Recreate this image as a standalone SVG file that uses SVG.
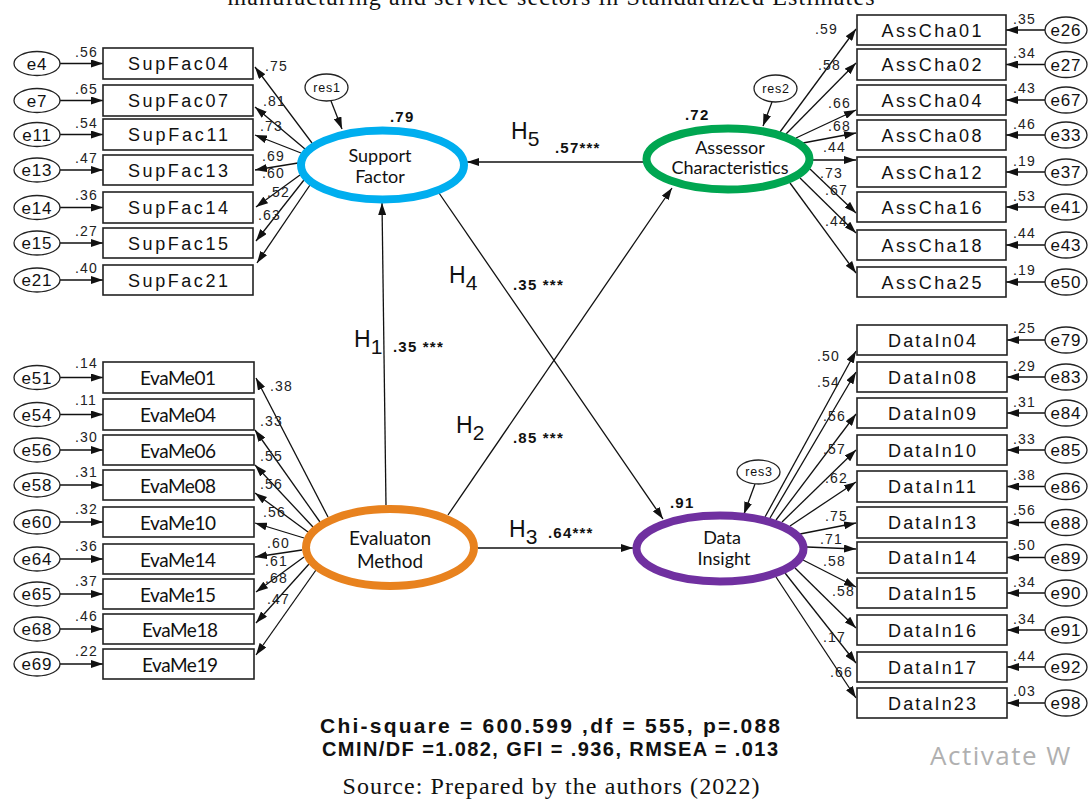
<svg xmlns="http://www.w3.org/2000/svg" width="1091" height="799" viewBox="0 0 1091 799">
  <style>
    .box { fill:#fff; stroke:#222; stroke-width:1.6 }
    .err { fill:#fff; stroke:#222; stroke-width:1.3 }
    .lat { fill:#fff; stroke-width:8 }
    .ind { font-family:"Liberation Sans", Arial, sans-serif; font-size:18px; fill:#111; text-anchor:middle }
    .eva { font-family:Lato, "Open Sans", sans-serif; font-size:19px; fill:#111; text-anchor:middle }
    .en { font-family:"Liberation Sans", Arial, sans-serif; font-size:17px; fill:#111; text-anchor:middle; letter-spacing:0.8px }
    .rn { font-family:"Liberation Sans", Arial, sans-serif; font-size:12.5px; fill:#111; text-anchor:middle; letter-spacing:0.8px }
    .num { font-family:"Liberation Sans", Arial, sans-serif; font-size:14px; fill:#222; letter-spacing:1.2px }
    .coef { font-family:"Liberation Sans", Arial, sans-serif; font-size:15px; font-weight:bold; fill:#111; letter-spacing:1.2px }
    .hyp { font-family:"Liberation Sans", Arial, sans-serif; font-size:23px; fill:#111 }
    .lname { font-family:Lato, "Open Sans", sans-serif; font-size:18px; fill:#111; text-anchor:middle }
    .lname.big { font-size:19px }
    .fit { font-family:"Liberation Sans", Arial, sans-serif; font-size:20px; font-weight:bold; fill:#111; text-anchor:middle }
    .fit.big { font-size:21px }
    .serif { font-family:"Liberation Serif", "Times New Roman", serif; font-size:24px; fill:#111; text-anchor:middle }
    #connectors line { stroke:#111; stroke-width:1.3; marker-end:url(#ah) }
  </style>
  <defs>
    <marker id="ah" viewBox="0 0 12 8" refX="12" refY="4" markerWidth="12" markerHeight="8" markerUnits="userSpaceOnUse" orient="auto">
      <path d="M0,0 L12,4 L0,8 z" fill="#111"/>
    </marker>
  </defs>

  <rect width="1091" height="799" fill="#fff"/>

  <!-- caption lines -->
  <text class="serif" x="551" y="5" textLength="647">manufacturing and service sectors in Standardized Estimates</text>

  <!-- connectors -->
  <g id="connectors">
    <!-- structural paths -->
    <line x1="643" y1="162" x2="467" y2="162"/>
    <line x1="386" y1="505" x2="382" y2="203"/>
    <line x1="448" y1="515" x2="672" y2="188"/>
    <line x1="439" y1="193" x2="663" y2="519"/>
    <line x1="478" y1="548" x2="633" y2="548"/>
    <!-- residuals -->
    <line x1="331" y1="101" x2="342" y2="129"/>
    <line x1="772" y1="102" x2="763" y2="126"/>
    <line x1="755" y1="484" x2="744" y2="514"/>
    <!-- Support Factor loadings -->
    <line x1="312" y1="143" x2="255" y2="67"/>
    <line x1="305" y1="149" x2="255" y2="107"/>
    <line x1="301" y1="153" x2="255" y2="135"/>
    <line x1="298" y1="163" x2="255" y2="170"/>
    <line x1="300" y1="175" x2="256" y2="207"/>
    <line x1="304" y1="180" x2="256" y2="241"/>
    <line x1="310" y1="185" x2="257" y2="263"/>
    <!-- Assessor Characteristics loadings -->
    <line x1="780" y1="132" x2="856" y2="29"/>
    <line x1="786" y1="134" x2="856" y2="63"/>
    <line x1="796" y1="138" x2="856" y2="110"/>
    <line x1="803" y1="143" x2="856" y2="133"/>
    <line x1="813" y1="160" x2="856" y2="160"/>
    <line x1="810" y1="169" x2="856" y2="213"/>
    <line x1="800" y1="178" x2="856" y2="233"/>
    <line x1="790" y1="183" x2="856" y2="273"/>
    <!-- Data Insight loadings -->
    <line x1="765" y1="517" x2="856" y2="351"/>
    <line x1="770" y1="518" x2="856" y2="372"/>
    <line x1="776" y1="520" x2="856" y2="414"/>
    <line x1="782" y1="522" x2="856" y2="450"/>
    <line x1="790" y1="526" x2="856" y2="482"/>
    <line x1="800" y1="534" x2="856" y2="523"/>
    <line x1="807" y1="547" x2="856" y2="549"/>
    <line x1="803" y1="560" x2="856" y2="587"/>
    <line x1="795" y1="568" x2="856" y2="628"/>
    <line x1="785" y1="573" x2="856" y2="663"/>
    <line x1="776" y1="577" x2="856" y2="698"/>
    <!-- Evaluaton Method loadings -->
    <line x1="328" y1="517" x2="256" y2="378"/>
    <line x1="320" y1="522" x2="255" y2="430"/>
    <line x1="313" y1="527" x2="255" y2="465"/>
    <line x1="308" y1="532" x2="255" y2="493"/>
    <line x1="304" y1="538" x2="255" y2="523"/>
    <line x1="302" y1="550" x2="255" y2="557"/>
    <line x1="304" y1="557" x2="256" y2="592"/>
    <line x1="309" y1="564" x2="256" y2="623"/>
    <line x1="316" y1="570" x2="256" y2="655"/>
    <!-- error terms, left column -->
    <line x1="60" y1="63.5" x2="103" y2="63.5"/>
    <line x1="60" y1="100.5" x2="103" y2="100.5"/>
    <line x1="60" y1="134.5" x2="103" y2="134.5"/>
    <line x1="60" y1="170" x2="103" y2="170"/>
    <line x1="60" y1="207.5" x2="103" y2="207.5"/>
    <line x1="60" y1="243" x2="103" y2="243"/>
    <line x1="60" y1="280" x2="103" y2="280"/>
    <line x1="60" y1="377.5" x2="103" y2="377.5"/>
    <line x1="60" y1="414.5" x2="103" y2="414.5"/>
    <line x1="60" y1="450" x2="103" y2="450"/>
    <line x1="60" y1="485" x2="103" y2="485"/>
    <line x1="60" y1="522" x2="103" y2="522"/>
    <line x1="60" y1="559" x2="103" y2="559"/>
    <line x1="60" y1="594" x2="103" y2="594"/>
    <line x1="60" y1="629" x2="103" y2="629"/>
    <line x1="60" y1="664" x2="103" y2="664"/>
    <!-- error terms, right column -->
    <line x1="1045" y1="30" x2="1006" y2="30"/>
    <line x1="1045" y1="64.5" x2="1006" y2="64.5"/>
    <line x1="1045" y1="100" x2="1006" y2="100"/>
    <line x1="1045" y1="135" x2="1006" y2="135"/>
    <line x1="1045" y1="172" x2="1006" y2="172"/>
    <line x1="1045" y1="207" x2="1006" y2="207"/>
    <line x1="1045" y1="245" x2="1006" y2="245"/>
    <line x1="1045" y1="282" x2="1006" y2="282"/>
    <line x1="1045" y1="340" x2="1007" y2="340"/>
    <line x1="1045" y1="377" x2="1007" y2="377"/>
    <line x1="1045" y1="413" x2="1007" y2="413"/>
    <line x1="1045" y1="450" x2="1007" y2="450"/>
    <line x1="1045" y1="486.5" x2="1007" y2="486.5"/>
    <line x1="1045" y1="522.5" x2="1007" y2="522.5"/>
    <line x1="1045" y1="557.5" x2="1007" y2="557.5"/>
    <line x1="1045" y1="593" x2="1007" y2="593"/>
    <line x1="1045" y1="630" x2="1007" y2="630"/>
    <line x1="1045" y1="667" x2="1007" y2="667"/>
    <line x1="1045" y1="703" x2="1007" y2="703"/>
  </g>

  <!-- path labels -->
  <g id="path-labels">
    <text class="hyp" x="511" y="139">H<tspan font-size="21" dy="7">5</tspan></text>
    <text class="coef" x="555" y="153">.57***</text>
    <text class="hyp" x="449" y="283">H<tspan font-size="21" dy="7">4</tspan></text>
    <text class="coef" x="513" y="290">.35 ***</text>
    <text class="hyp" x="354" y="347">H<tspan font-size="21" dy="7">1</tspan></text>
    <text class="coef" x="393" y="352">.35 ***</text>
    <text class="hyp" x="456" y="433">H<tspan font-size="21" dy="7">2</tspan></text>
    <text class="coef" x="513" y="443">.85 ***</text>
    <text class="hyp" x="509" y="537">H<tspan font-size="21" dy="7">3</tspan></text>
    <text class="coef" x="548" y="538">.64***</text>
    <text class="coef" x="390" y="122">.79</text>
    <text class="coef" x="685" y="120">.72</text>
    <text class="coef" x="670" y="508">.91</text>
  </g>

  <!-- loading and error weights -->
  <g id="weights" class="num">
    <text x="265" y="71">.75</text>
    <text x="263" y="106">.81</text>
    <text x="260" y="131">.73</text>
    <text x="262" y="161">.69</text>
    <text x="262" y="178">.60</text>
    <text x="267" y="197">.52</text>
    <text x="258" y="220">.63</text>
    <text x="75" y="57">.56</text>
    <text x="75" y="94">.65</text>
    <text x="75" y="128">.54</text>
    <text x="75" y="163">.47</text>
    <text x="75" y="200">.36</text>
    <text x="75" y="236">.27</text>
    <text x="75" y="273">.40</text>

    <text x="815" y="34">.59</text>
    <text x="818" y="70">.58</text>
    <text x="828" y="108">.66</text>
    <text x="828" y="131">.68</text>
    <text x="823" y="152">.44</text>
    <text x="820" y="178">.73</text>
    <text x="825" y="195">.67</text>
    <text x="825" y="226">.44</text>
    <text x="1013" y="24">.35</text>
    <text x="1013" y="58">.34</text>
    <text x="1013" y="93">.43</text>
    <text x="1013" y="129">.46</text>
    <text x="1013" y="166">.19</text>
    <text x="1013" y="201">.53</text>
    <text x="1013" y="238">.44</text>
    <text x="1013" y="275">.19</text>

    <text x="817" y="361">.50</text>
    <text x="817" y="387">.54</text>
    <text x="823" y="421">.56</text>
    <text x="823" y="454">.57</text>
    <text x="825" y="483">.62</text>
    <text x="825" y="521">.75</text>
    <text x="820" y="544">.71</text>
    <text x="823" y="566">.58</text>
    <text x="832" y="596">.58</text>
    <text x="823" y="642">.17</text>
    <text x="830" y="677">.66</text>
    <text x="1013" y="333">.25</text>
    <text x="1013" y="371">.29</text>
    <text x="1013" y="407">.31</text>
    <text x="1013" y="444">.33</text>
    <text x="1013" y="480">.38</text>
    <text x="1013" y="515">.56</text>
    <text x="1013" y="550">.50</text>
    <text x="1013" y="587">.34</text>
    <text x="1013" y="624">.34</text>
    <text x="1013" y="661">.44</text>
    <text x="1013" y="696">.03</text>

    <text x="270" y="391">.38</text>
    <text x="260" y="426">.33</text>
    <text x="260" y="461">.55</text>
    <text x="260" y="489">.56</text>
    <text x="263" y="517">.56</text>
    <text x="267" y="548">.60</text>
    <text x="265" y="566">.61</text>
    <text x="265" y="583">.68</text>
    <text x="267" y="604">.47</text>
    <text x="75" y="368">.14</text>
    <text x="75" y="405">.11</text>
    <text x="75" y="442">.30</text>
    <text x="75" y="477">.31</text>
    <text x="75" y="514">.32</text>
    <text x="75" y="551">.36</text>
    <text x="75" y="586">.37</text>
    <text x="75" y="621">.46</text>
    <text x="75" y="656">.22</text>
  </g>

  <!-- latent constructs -->
  <g id="support-factor">
    <ellipse class="lat" cx="382.5" cy="165" rx="81.5" ry="34.5" stroke="#00AEEF"/>
    <text class="lname" x="380" y="162">Support</text>
    <text class="lname" x="380" y="183">Factor</text>
  </g>
  <g id="assessor-characteristics">
    <ellipse class="lat" cx="728" cy="159" rx="81.5" ry="30.5" stroke="#00A651"/>
    <text class="lname" x="730" y="154">Assessor</text>
    <text class="lname" x="730" y="174">Characteristics</text>
  </g>
  <g id="evaluaton-method">
    <ellipse class="lat" cx="390" cy="547.5" rx="84" ry="38.5" stroke="#E8821E"/>
    <text class="lname big" x="390" y="545">Evaluaton</text>
    <text class="lname big" x="390" y="568">Method</text>
  </g>
  <g id="data-insight">
    <ellipse class="lat" cx="720" cy="548.5" rx="83.5" ry="33" stroke="#7030A0"/>
    <text class="lname" x="722" y="544">Data</text>
    <text class="lname" x="724" y="565">Insight</text>
  </g>

  <!-- residuals -->
  <g id="res1"><ellipse class="err" cx="326.5" cy="87.5" rx="21.5" ry="13.5"/><text class="rn" x="327" y="92">res1</text></g>
  <g id="res2"><ellipse class="err" cx="775.5" cy="88.5" rx="21.5" ry="13.5"/><text class="rn" x="776" y="93">res2</text></g>
  <g id="res3"><ellipse class="err" cx="758.5" cy="472" rx="21.5" ry="12"/><text class="rn" x="759" y="476">res3</text></g>

  <!-- Support Factor indicators -->
  <g id="SupFac04"><rect class="box" x="103" y="48" width="150" height="31"/><text class="ind" x="178" y="70" textLength="100">SupFac04</text></g>
  <g id="SupFac07"><rect class="box" x="103" y="85" width="150" height="31"/><text class="ind" x="178" y="107" textLength="100">SupFac07</text></g>
  <g id="SupFac11"><rect class="box" x="103" y="119" width="150" height="31"/><text class="ind" x="178" y="141" textLength="100">SupFac11</text></g>
  <g id="SupFac13"><rect class="box" x="103" y="155" width="150" height="30"/><text class="ind" x="178" y="176.5" textLength="100">SupFac13</text></g>
  <g id="SupFac14"><rect class="box" x="103" y="192" width="150" height="31"/><text class="ind" x="178" y="214" textLength="100">SupFac14</text></g>
  <g id="SupFac15"><rect class="box" x="103" y="228" width="150" height="30"/><text class="ind" x="178" y="249.5" textLength="100">SupFac15</text></g>
  <g id="SupFac21"><rect class="box" x="103" y="265" width="150" height="30"/><text class="ind" x="178" y="286.5" textLength="100">SupFac21</text></g>

  <g id="e4"><ellipse class="err" cx="37" cy="63.5" rx="23" ry="12"/><text class="en" x="37" y="69.5">e4</text></g>
  <g id="e7"><ellipse class="err" cx="37" cy="100.5" rx="23" ry="12"/><text class="en" x="37" y="106.5">e7</text></g>
  <g id="e11"><ellipse class="err" cx="37" cy="134.5" rx="23" ry="12"/><text class="en" x="37" y="140.5">e11</text></g>
  <g id="e13"><ellipse class="err" cx="37" cy="170" rx="23" ry="12"/><text class="en" x="37" y="176">e13</text></g>
  <g id="e14"><ellipse class="err" cx="37" cy="207.5" rx="23" ry="12"/><text class="en" x="37" y="213.5">e14</text></g>
  <g id="e15"><ellipse class="err" cx="37" cy="243" rx="23" ry="12"/><text class="en" x="37" y="249">e15</text></g>
  <g id="e21"><ellipse class="err" cx="37" cy="280" rx="23" ry="12"/><text class="en" x="37" y="286">e21</text></g>

  <!-- Evaluaton Method indicators -->
  <g id="EvaMe01"><rect class="box" x="103" y="362" width="151" height="31"/><text class="eva" x="178" y="385" textLength="76">EvaMe01</text></g>
  <g id="EvaMe04"><rect class="box" x="103" y="399" width="151" height="31"/><text class="eva" x="178" y="422" textLength="76">EvaMe04</text></g>
  <g id="EvaMe06"><rect class="box" x="103" y="435" width="151" height="30"/><text class="eva" x="178" y="457.5" textLength="76">EvaMe06</text></g>
  <g id="EvaMe08"><rect class="box" x="103" y="470" width="151" height="30"/><text class="eva" x="178" y="492.5" textLength="76">EvaMe08</text></g>
  <g id="EvaMe10"><rect class="box" x="103" y="507" width="151" height="30"/><text class="eva" x="178" y="529.5" textLength="76">EvaMe10</text></g>
  <g id="EvaMe14"><rect class="box" x="103" y="544" width="151" height="30"/><text class="eva" x="178" y="566.5" textLength="76">EvaMe14</text></g>
  <g id="EvaMe15"><rect class="box" x="103" y="579" width="151" height="30"/><text class="eva" x="178" y="601.5" textLength="76">EvaMe15</text></g>
  <g id="EvaMe18"><rect class="box" x="103" y="614" width="151" height="30"/><text class="eva" x="180" y="636.5" textLength="76">EvaMe18</text></g>
  <g id="EvaMe19"><rect class="box" x="103" y="649" width="151" height="30"/><text class="eva" x="180" y="671.5" textLength="76">EvaMe19</text></g>

  <g id="e51"><ellipse class="err" cx="37" cy="377.5" rx="23" ry="12"/><text class="en" x="37" y="383.5">e51</text></g>
  <g id="e54"><ellipse class="err" cx="37" cy="414.5" rx="23" ry="12"/><text class="en" x="37" y="420.5">e54</text></g>
  <g id="e56"><ellipse class="err" cx="37" cy="450" rx="23" ry="12"/><text class="en" x="37" y="456">e56</text></g>
  <g id="e58"><ellipse class="err" cx="37" cy="485" rx="23" ry="12"/><text class="en" x="37" y="491">e58</text></g>
  <g id="e60"><ellipse class="err" cx="37" cy="522" rx="23" ry="12"/><text class="en" x="37" y="528">e60</text></g>
  <g id="e64"><ellipse class="err" cx="37" cy="559" rx="23" ry="12"/><text class="en" x="37" y="565">e64</text></g>
  <g id="e65"><ellipse class="err" cx="37" cy="594" rx="23" ry="12"/><text class="en" x="37" y="600">e65</text></g>
  <g id="e68"><ellipse class="err" cx="37" cy="629" rx="23" ry="12"/><text class="en" x="37" y="635">e68</text></g>
  <g id="e69"><ellipse class="err" cx="37" cy="664" rx="23" ry="12"/><text class="en" x="37" y="670">e69</text></g>

  <!-- Assessor Characteristics indicators -->
  <g id="AssCha01"><rect class="box" x="857" y="15" width="149" height="30"/><text class="ind" x="931.5" y="36.5" textLength="100">AssCha01</text></g>
  <g id="AssCha02"><rect class="box" x="857" y="49" width="149" height="31"/><text class="ind" x="931.5" y="71" textLength="100">AssCha02</text></g>
  <g id="AssCha04"><rect class="box" x="857" y="85" width="149" height="30"/><text class="ind" x="931.5" y="106.5" textLength="100">AssCha04</text></g>
  <g id="AssCha08"><rect class="box" x="857" y="120" width="149" height="30"/><text class="ind" x="931.5" y="141.5" textLength="100">AssCha08</text></g>
  <g id="AssCha12"><rect class="box" x="857" y="157" width="149" height="30"/><text class="ind" x="931.5" y="178.5" textLength="100">AssCha12</text></g>
  <g id="AssCha16"><rect class="box" x="857" y="192" width="149" height="30"/><text class="ind" x="931.5" y="213.5" textLength="100">AssCha16</text></g>
  <g id="AssCha18"><rect class="box" x="857" y="230" width="149" height="30"/><text class="ind" x="931.5" y="251.5" textLength="100">AssCha18</text></g>
  <g id="AssCha25"><rect class="box" x="857" y="267" width="149" height="30"/><text class="ind" x="931.5" y="288.5" textLength="100">AssCha25</text></g>

  <g id="e26"><ellipse class="err" cx="1066" cy="30" rx="21" ry="13"/><text class="en" x="1066" y="36">e26</text></g>
  <g id="e27"><ellipse class="err" cx="1066" cy="64.5" rx="21" ry="13"/><text class="en" x="1066" y="70.5">e27</text></g>
  <g id="e67"><ellipse class="err" cx="1066" cy="100" rx="21" ry="13"/><text class="en" x="1066" y="106">e67</text></g>
  <g id="e33"><ellipse class="err" cx="1066" cy="135" rx="21" ry="13"/><text class="en" x="1066" y="141">e33</text></g>
  <g id="e37"><ellipse class="err" cx="1066" cy="172" rx="21" ry="13"/><text class="en" x="1066" y="178">e37</text></g>
  <g id="e41"><ellipse class="err" cx="1066" cy="207" rx="21" ry="13"/><text class="en" x="1066" y="213">e41</text></g>
  <g id="e43"><ellipse class="err" cx="1066" cy="245" rx="21" ry="13"/><text class="en" x="1066" y="251">e43</text></g>
  <g id="e50"><ellipse class="err" cx="1066" cy="282" rx="21" ry="13"/><text class="en" x="1066" y="288">e50</text></g>

  <!-- Data Insight indicators -->
  <g id="DataIn04"><rect class="box" x="857" y="325" width="150" height="30"/><text class="ind" x="932" y="346.5" textLength="88">DataIn04</text></g>
  <g id="DataIn08"><rect class="box" x="857" y="362" width="150" height="30"/><text class="ind" x="932" y="383.5" textLength="88">DataIn08</text></g>
  <g id="DataIn09"><rect class="box" x="857" y="398" width="150" height="30"/><text class="ind" x="932" y="419.5" textLength="88">DataIn09</text></g>
  <g id="DataIn10"><rect class="box" x="857" y="435" width="150" height="30"/><text class="ind" x="932" y="456.5" textLength="88">DataIn10</text></g>
  <g id="DataIn11"><rect class="box" x="857" y="471" width="150" height="31"/><text class="ind" x="932" y="493" textLength="88">DataIn11</text></g>
  <g id="DataIn13"><rect class="box" x="857" y="507" width="150" height="31"/><text class="ind" x="932" y="529" textLength="88">DataIn13</text></g>
  <g id="DataIn14"><rect class="box" x="857" y="542" width="150" height="31"/><text class="ind" x="932" y="564" textLength="88">DataIn14</text></g>
  <g id="DataIn15"><rect class="box" x="857" y="578" width="150" height="30"/><text class="ind" x="932" y="599.5" textLength="88">DataIn15</text></g>
  <g id="DataIn16"><rect class="box" x="857" y="615" width="150" height="30"/><text class="ind" x="932" y="636.5" textLength="88">DataIn16</text></g>
  <g id="DataIn17"><rect class="box" x="857" y="652" width="150" height="30"/><text class="ind" x="932" y="673.5" textLength="88">DataIn17</text></g>
  <g id="DataIn23"><rect class="box" x="857" y="688" width="150" height="30"/><text class="ind" x="932" y="709.5" textLength="88">DataIn23</text></g>

  <g id="e79"><ellipse class="err" cx="1066" cy="340" rx="21" ry="13"/><text class="en" x="1066" y="346">e79</text></g>
  <g id="e83"><ellipse class="err" cx="1066" cy="377" rx="21" ry="13"/><text class="en" x="1066" y="383">e83</text></g>
  <g id="e84"><ellipse class="err" cx="1066" cy="413" rx="21" ry="13"/><text class="en" x="1066" y="419">e84</text></g>
  <g id="e85"><ellipse class="err" cx="1066" cy="450" rx="21" ry="13"/><text class="en" x="1066" y="456">e85</text></g>
  <g id="e86"><ellipse class="err" cx="1066" cy="486.5" rx="21" ry="13"/><text class="en" x="1066" y="492.5">e86</text></g>
  <g id="e88"><ellipse class="err" cx="1066" cy="522.5" rx="21" ry="13"/><text class="en" x="1066" y="528.5">e88</text></g>
  <g id="e89"><ellipse class="err" cx="1066" cy="557.5" rx="21" ry="13"/><text class="en" x="1066" y="563.5">e89</text></g>
  <g id="e90"><ellipse class="err" cx="1066" cy="593" rx="21" ry="13"/><text class="en" x="1066" y="599">e90</text></g>
  <g id="e91"><ellipse class="err" cx="1066" cy="630" rx="21" ry="13"/><text class="en" x="1066" y="636">e91</text></g>
  <g id="e92"><ellipse class="err" cx="1066" cy="667" rx="21" ry="13"/><text class="en" x="1066" y="673">e92</text></g>
  <g id="e98"><ellipse class="err" cx="1066" cy="703" rx="21" ry="13"/><text class="en" x="1066" y="709">e98</text></g>

  <!-- fit statistics and source -->
  <g id="fit">
    <text class="fit big" x="550" y="733" textLength="460">Chi-square = 600.599 ,df = 555, p=.088</text>
    <text class="fit" x="550" y="756" textLength="456">CMIN/DF =1.082, GFI = .936, RMSEA = .013</text>
    <text class="serif" x="551" y="794" textLength="417">Source: Prepared by the authors (2022)</text>
  </g>
  <text x="930" y="765" font-family="'Open Sans', 'Noto Sans', sans-serif" font-size="26" fill="#b0b0b0" letter-spacing="1.5">Activate W</text>
</svg>
